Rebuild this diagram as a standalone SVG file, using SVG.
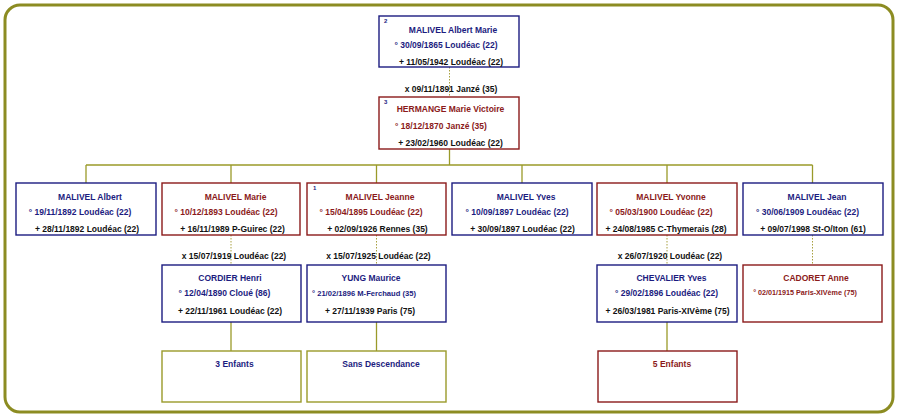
<svg xmlns="http://www.w3.org/2000/svg" width="900" height="420" viewBox="0 0 900 420">
<style>
text{font-family:"Liberation Sans",Arial,sans-serif;font-weight:bold;font-size:8.5px;text-anchor:middle}
.m{fill:#1c1c80}.f{fill:#8b1a1a}.k{fill:#111}
.sm{font-size:7.6px}
.sm2{font-size:7.2px}
.sup{font-size:6px;text-anchor:start;fill:#1c1c80}
.bm{fill:#fff;stroke:#1c1c80;stroke-width:1.4}
.bf{fill:#fff;stroke:#8b1a1a;stroke-width:1.4}
.bo{fill:#fff;stroke:#9a9a2a;stroke-width:1.4}
.ln{stroke:#9a9a2a;stroke-width:1.3;fill:none}
.dl{stroke:#a8a040;stroke-width:1;fill:none;stroke-dasharray:1.5 1.5}
</style>
<rect x="5" y="5" width="888" height="407" rx="15" fill="#fff" stroke="#8c8c22" stroke-width="3"/>
<g id="connectors">
<path class="dl" d="M449.5 67V97"/>
<path class="ln" d="M449.5 149V165M86 165H812.5M86 165V183M231 165V183M376.5 165V183M522 165V183M667 165V183M812.5 165V183"/>
<path class="dl" d="M231 235V265M376.5 235V265M667 235V265M812.5 235V265"/>
<path class="ln" d="M231 322V351M376.5 322V351M667 322V351"/>
</g>
<g id="n-albert-marie">
<rect class="bm" x="379" y="16" width="140" height="51"/>
<text class="sup" x="384" y="23">2</text>
<text class="m" x="453" y="32.5">MALIVEL Albert Marie</text>
<text class="m" x="446" y="47.5">° 30/09/1865 Loudéac (22)</text>
<text class="k" x="451" y="64.5">+ 11/05/1942 Loudéac (22)</text>
</g>
<text class="k" x="451" y="92">x 09/11/1891 Janzé (35)</text>
<g id="n-hermange">
<rect class="bf" x="379" y="97" width="140" height="52"/>
<text class="sup" x="384" y="104">3</text>
<text class="f" x="450.5" y="112">HERMANGE Marie Victoire</text>
<text class="f" x="441" y="129">° 18/12/1870 Janzé (35)</text>
<text class="k" x="450.5" y="146">+ 23/02/1960 Loudéac (22)</text>
</g>
<g id="n-albert">
<rect class="bm" x="16" y="183" width="140" height="52"/>
<text class="m" x="90" y="200">MALIVEL Albert</text>
<text class="m" x="80" y="215">° 19/11/1892 Loudéac (22)</text>
<text class="k" x="87" y="232">+ 28/11/1892 Loudéac (22)</text>
</g>
<g id="n-marie">
<rect class="bf" x="162" y="183" width="138" height="52"/>
<text class="f" x="235.5" y="200">MALIVEL Marie</text>
<text class="f" x="226" y="215">° 10/12/1893 Loudéac (22)</text>
<text class="k" x="232.5" y="232">+ 16/11/1989 P-Guirec (22)</text>
</g>
<g id="n-jeanne">
<rect class="bf" x="307" y="183" width="139" height="52"/>
<text class="sup" x="313" y="190">1</text>
<text class="f" x="380" y="200">MALIVEL Jeanne</text>
<text class="f" x="371" y="215">° 15/04/1895 Loudéac (22)</text>
<text class="k" x="377.5" y="232">+ 02/09/1926 Rennes (35)</text>
</g>
<g id="n-yves">
<rect class="bm" x="452" y="183" width="140" height="52"/>
<text class="m" x="526" y="200">MALIVEL Yves</text>
<text class="m" x="517" y="215">° 10/09/1897 Loudéac (22)</text>
<text class="k" x="522.5" y="232">+ 30/09/1897 Loudéac (22)</text>
</g>
<g id="n-yvonne">
<rect class="bf" x="597" y="183" width="140" height="52"/>
<text class="f" x="671" y="200">MALIVEL Yvonne</text>
<text class="f" x="661" y="215">° 05/03/1900 Loudéac (22)</text>
<text class="k" x="666" y="232">+ 24/08/1985 C-Thymerais (28)</text>
</g>
<g id="n-jean">
<rect class="bm" x="743" y="183" width="140" height="52"/>
<text class="m" x="817" y="200">MALIVEL Jean</text>
<text class="m" x="807.5" y="215">° 30/06/1909 Loudéac (22)</text>
<text class="k" x="813" y="232">+ 09/07/1998 St-O/Iton (61)</text>
</g>
<text class="k" x="234" y="258.5">x 15/07/1919 Loudéac (22)</text>
<text class="k" x="378.5" y="258.5">x 15/07/1925 Loudéac (22)</text>
<text class="k" x="670" y="258.5">x 26/07/1920 Loudéac (22)</text>
<g id="n-cordier">
<rect class="bm" x="162" y="265" width="139" height="57"/>
<text class="m" x="230" y="281">CORDIER Henri</text>
<text class="m" x="224.5" y="296">° 12/04/1890 Cloué (86)</text>
<text class="k" x="230" y="314">+ 22/11/1961 Loudéac (22)</text>
</g>
<g id="n-yung">
<rect class="bm" x="307" y="265" width="139" height="57"/>
<text class="m" x="371" y="281">YUNG Maurice</text>
<text class="m sm" x="364" y="296">° 21/02/1896 M-Ferchaud (35)</text>
<text class="k" x="370" y="314">+ 27/11/1939 Paris (75)</text>
</g>
<g id="n-chevalier">
<rect class="bm" x="597" y="265" width="140" height="57"/>
<text class="m" x="671.5" y="281">CHEVALIER Yves</text>
<text class="m" x="666.5" y="296">° 29/02/1896 Loudéac (22)</text>
<text class="k" x="667.5" y="314">+ 26/03/1981 Paris-XIVème (75)</text>
</g>
<g id="n-cadoret">
<rect class="bf" x="743" y="265" width="139" height="57"/>
<text class="f" x="816" y="281">CADORET Anne</text>
<text class="f sm2" x="805" y="295">° 02/01/1915 Paris-XIVème (75)</text>
</g>
<g id="n-enfants-3">
<rect class="bo" x="162" y="351" width="139" height="51"/>
<text class="m" x="234.5" y="367">3 Enfants</text>
</g>
<g id="n-sans-descendance">
<rect class="bo" x="307" y="351" width="139" height="51"/>
<text class="m" x="381" y="367">Sans Descendance</text>
</g>
<g id="n-enfants-5">
<rect class="bf" x="598" y="351" width="139" height="51"/>
<text class="f" x="672" y="367">5 Enfants</text>
</g>
</svg>
